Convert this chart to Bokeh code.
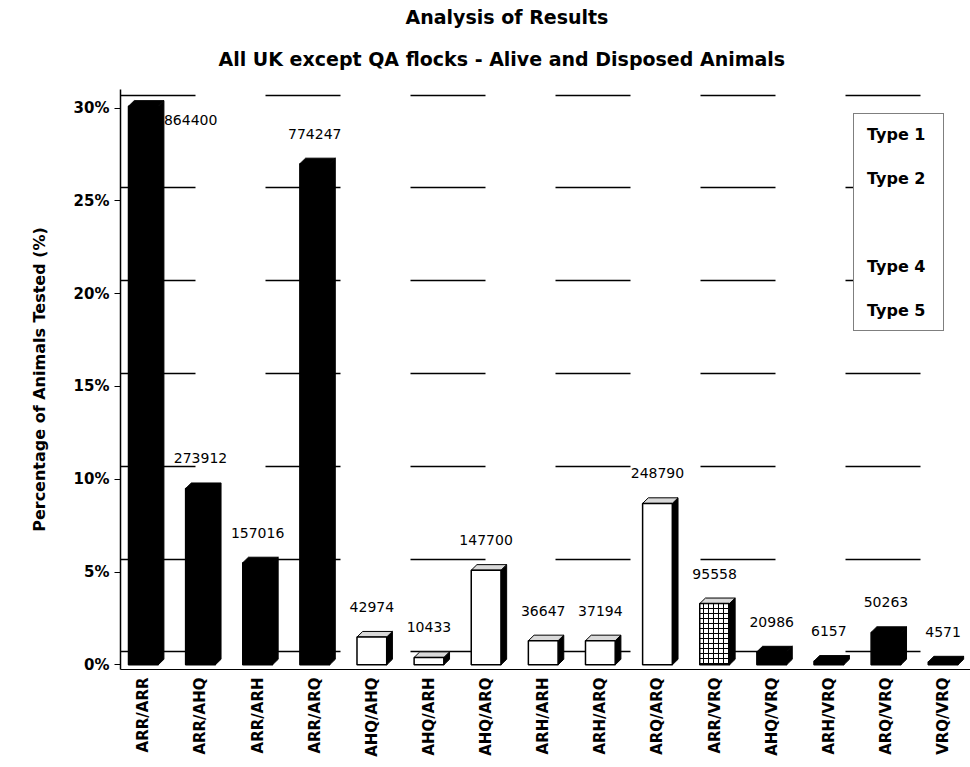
import numpy as np
from bokeh.plotting import figure
from bokeh.models import (Range1d, FixedTicker, PrintfTickFormatter, ColumnDataSource,
                          Title, Legend, LegendItem, Grid)
from bokeh.core.properties import value
from bokeh.embed import file_html
from bokeh.resources import INLINE

# ---------------- data ----------------
categories = ["ARR/ARR", "ARR/AHQ", "ARR/ARH", "ARR/ARQ", "AHQ/AHQ", "AHQ/ARH", "AHQ/ARQ",
              "ARH/ARH", "ARH/ARQ", "ARQ/ARQ", "ARR/VRQ", "AHQ/VRQ", "ARH/VRQ", "ARQ/VRQ", "VRQ/VRQ"]
counts = [864400, 273912, 157016, 774247, 42974, 10433, 147700,
          36647, 37194, 248790, 95558, 20986, 6157, 50263, 4571]
percent = [30.1, 9.5, 5.5, 27.0, 1.5, 0.4, 5.1,
           1.3, 1.3, 8.7, 3.3, 0.7, 0.2, 1.75, 0.16]
types = [1, 2, 2, 2, 3, 3, 3, 3, 3, 3, 4, 5, 5, 5, 5]
y_ticks = [0, 5, 10, 15, 20, 25, 30]
legend_labels = ["Type 1", "Type 2", " ", "Type 4", "Type 5"]

title_1 = "Analysis of Results"
title_2 = "All UK except QA flocks - Alive and Disposed Animals"
y_title = "Percentage of Animals Tested (%)"

# ---------------- styles ----------------
FONT = "DejaVu Sans"
type_fill = {1: "black", 2: "black", 3: "white", 4: "white", 5: "black"}
type_hatch = {1: "", 2: "", 3: "", 4: "cross", 5: ""}
type_top = {1: "black", 2: "black", 3: "#d9d9d9", 4: "#d9d9d9", 5: "black"}
W = 0.52      # bar width (category units)
DX = 0.10     # 3D depth, x
DY = 0.30     # 3D depth, y (%)
WALL = 0.7    # back-wall offset of gridlines (%)

x = np.arange(len(categories), dtype=float)
pct = np.array(percent, dtype=float)

src = ColumnDataSource(dict(
    x=x, top=pct, cat=categories,
    fill=[type_fill[t] for t in types],
    hatch=[type_hatch[t] for t in types],
))

# side and top faces of the 3D bars, computed from the data
side_xs, side_ys, top_xs, top_ys, top_col = [], [], [], [], []
for xi, v, t in zip(x, pct, types):
    r = xi + W / 2
    l = xi - W / 2
    side_xs.append([r, r + DX, r + DX, r])
    side_ys.append([0, DY, v + DY, v])
    top_xs.append([l, l + DX, r + DX, r])
    top_ys.append([v, v + DY, v + DY, v])
    top_col.append(type_top[t])

x_start, x_end = -0.40, 14.48
y_start, y_end = -0.25, 31.0

p = figure(width=970, height=767, output_backend="svg", toolbar_location=None,
           x_range=Range1d(x_start, x_end), y_range=Range1d(y_start, y_end),
           min_border_left=120, min_border_right=0, min_border_bottom=98, min_border_top=0,
           outline_line_color=None, background_fill_color="white", border_fill_color="white")
p.title.visible = False
p.extra_y_ranges = {"wall": Range1d(y_start - WALL, y_end - WALL)}

# back-wall gridlines
p.xgrid.visible = False
p.ygrid.visible = False
wall_grid = Grid(dimension=1, ticker=FixedTicker(ticks=y_ticks), y_range_name="wall",
                 grid_line_color="black", grid_line_width=1.5, grid_line_dash="75 70")
p.add_layout(wall_grid)

# bars
p.patches(side_xs, side_ys, fill_color="black", line_color="black", line_width=1)
p.patches(top_xs, top_ys, fill_color=top_col, line_color="black", line_width=1)
p.vbar(x="x", top="top", bottom=0, width=W, source=src, fill_color="fill",
       line_color="black", line_width=1.5, hatch_pattern="hatch", hatch_color="black",
       hatch_scale=5, hatch_weight=1)

# value labels
lab_x, lab_y, lab_align = [], [], []
for xi, v in zip(x, pct):
    if v + 1.35 > y_end - 0.7:
        lab_x.append(xi + W / 2 + DX)
        lab_y.append(v - 1.0)
        lab_align.append("left")
    else:
        lab_x.append(xi)
        lab_y.append(v + 1.35)
        lab_align.append("center")
lab_src = ColumnDataSource(dict(x=lab_x, y=lab_y, t=[str(c) for c in counts], a=lab_align))
p.text(x="x", y="y", text="t", text_align="a", text_baseline="bottom", source=lab_src,
       text_font=value(FONT), text_font_size="14px", text_color="black")

# axes
p.yaxis.ticker = FixedTicker(ticks=y_ticks)
p.yaxis.formatter = PrintfTickFormatter(format="%d%%")
p.yaxis.axis_label = y_title
p.yaxis.axis_label_text_font = FONT
p.yaxis.axis_label_text_font_style = "bold"
p.yaxis.axis_label_text_font_size = "16px"
p.yaxis.axis_label_text_color = "black"
p.yaxis.axis_label_standoff = 22
p.yaxis.major_label_text_font = FONT
p.yaxis.major_label_text_font_style = "bold"
p.yaxis.major_label_text_font_size = "15px"
p.yaxis.major_label_text_color = "black"
p.yaxis.major_tick_out = 6
p.yaxis.major_tick_in = 0
p.yaxis.minor_tick_line_color = None
p.yaxis.axis_line_color = "black"
p.yaxis.axis_line_width = 1.5

p.xaxis.ticker = FixedTicker(ticks=list(x))
p.xaxis.major_label_overrides = {float(i): c for i, c in zip(x, categories)}
p.xaxis.major_label_orientation = np.pi / 2
p.xaxis.major_label_text_font = FONT
p.xaxis.major_label_text_font_style = "bold"
p.xaxis.major_label_text_font_size = "15px"
p.xaxis.major_label_text_color = "black"
p.xaxis.major_label_standoff = 8
p.xaxis.major_tick_out = 0
p.xaxis.major_tick_in = 0
p.xaxis.minor_tick_line_color = None
p.xaxis.axis_line_color = "black"
p.xaxis.axis_line_width = 1

# titles
p.add_layout(Title(text=title_2, text_font=FONT, text_font_size="19px", text_font_style="bold",
                   text_color="black", align="left", offset=98, standoff=35,
                   vertical_align="top"), "above")
p.add_layout(Title(text=title_1, text_font=FONT, text_font_size="19px", text_font_style="bold",
                   text_color="black", align="left", offset=285, standoff=6,
                   vertical_align="bottom"), "above")

# legend (text only, as in the reference)
dummies = [p.scatter(x=[], y=[], alpha=0) for _ in legend_labels]
legend = Legend(items=[LegendItem(label=lab, renderers=[r]) for lab, r in zip(legend_labels, dummies)],
                location=(733, 338), glyph_width=0, glyph_height=24, label_height=24,
                label_width=68, label_standoff=5, spacing=20, padding=8, margin=0,
                label_text_font=FONT, label_text_font_style="bold", label_text_font_size="16px",
                label_text_color="black",
                border_line_color="black", border_line_width=1.5, background_fill_color="white",
                background_fill_alpha=1)
p.add_layout(legend, "center")

open("out.html", "w").write(file_html(p, INLINE))
